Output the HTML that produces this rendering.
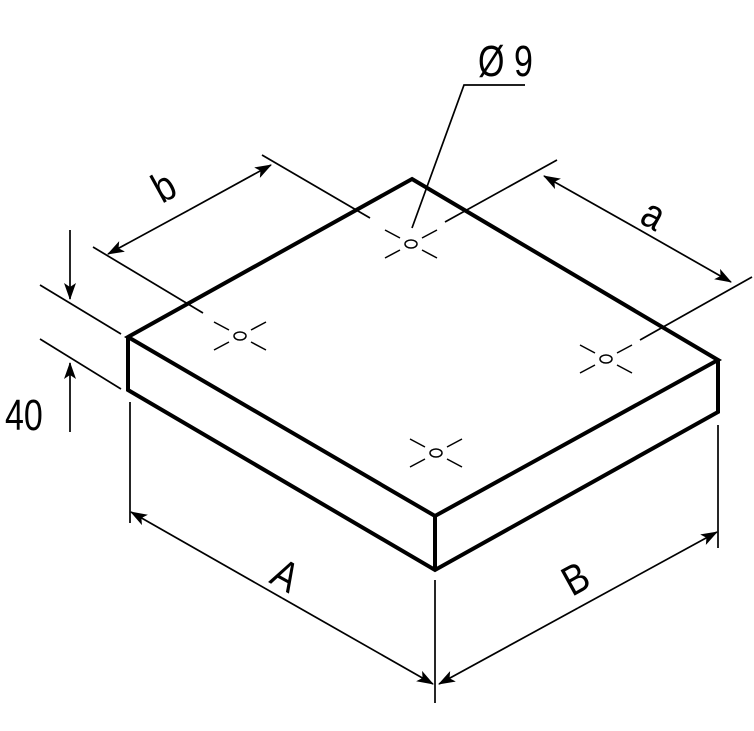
<!DOCTYPE html>
<html><head><meta charset="utf-8"><style>html,body{margin:0;padding:0;background:#fff}svg{display:block}</style></head><body>
<svg width="754" height="731" viewBox="0 0 754 731" xmlns="http://www.w3.org/2000/svg">
<defs>
<marker id="ar" markerWidth="17" markerHeight="12" refX="16" refY="6" orient="auto" markerUnits="userSpaceOnUse">
<path d="M0,0 L17,6 L0,12 L4,6 z" fill="#000"/></marker>
</defs>
<g fill="none" stroke="#000">
<g stroke-width="4" stroke-linejoin="miter">
<polygon points="412,179 718,360 435,516 128,337"/>
<polyline points="128,337 128,390 435,570 718,412 718,360"/>
<line x1="435" y1="516" x2="435" y2="570"/>
</g>
<g stroke-width="1.7">
<line x1="40" y1="285" x2="121" y2="334"/>
<line x1="40" y1="339" x2="121" y2="389"/>
<line x1="70" y1="230" x2="70" y2="299" marker-end="url(#ar)"/>
<line x1="70" y1="432" x2="70" y2="363" marker-end="url(#ar)"/>
<line x1="93" y1="247" x2="203" y2="313"/>
<line x1="262" y1="155" x2="370" y2="218"/>
<line x1="189" y1="210" x2="108" y2="254" marker-end="url(#ar)"/>
<line x1="189" y1="210" x2="271" y2="165" marker-end="url(#ar)"/>
<line x1="557" y1="160" x2="445" y2="222"/>
<line x1="752" y1="277" x2="640" y2="340"/>
<line x1="638" y1="229" x2="544" y2="176" marker-end="url(#ar)"/>
<line x1="638" y1="229" x2="731" y2="282" marker-end="url(#ar)"/>
<line x1="130" y1="402" x2="130" y2="523"/>
<line x1="435" y1="580" x2="435" y2="703"/>
<line x1="718" y1="425" x2="718" y2="548"/>
<line x1="282" y1="598" x2="131" y2="512" marker-end="url(#ar)"/>
<line x1="282" y1="598" x2="433" y2="684" marker-end="url(#ar)"/>
<line x1="578" y1="608" x2="439" y2="684" marker-end="url(#ar)"/>
<line x1="578" y1="608" x2="717" y2="532" marker-end="url(#ar)"/>
<polyline points="412,228 464,85 525,85"/>
</g>
<g stroke-width="1.5">
<g transform="translate(411,244)">
<ellipse rx="6" ry="4"/><path d="M-26,-14 L-11,-6 M11,6 L26,14 M-26,14 L-11,6 M11,-6 L26,-14"/></g>
<g transform="translate(240,336)">
<ellipse rx="6" ry="4"/><path d="M-26,-14 L-11,-6 M11,6 L26,14 M-26,14 L-11,6 M11,-6 L26,-14"/></g>
<g transform="translate(606,359)">
<ellipse rx="6" ry="4"/><path d="M-26,-14 L-11,-6 M11,6 L26,14 M-26,14 L-11,6 M11,-6 L26,-14"/></g>
<g transform="translate(436,453)">
<ellipse rx="6" ry="4"/><path d="M-26,-14 L-11,-6 M11,6 L26,14 M-26,14 L-11,6 M11,-6 L26,-14"/></g>
</g>
</g>
<g font-family="Liberation Sans, sans-serif" font-size="40" fill="#000">
<text transform="translate(5,430) scale(0.85,1.08)">40</text>
<text transform="translate(478,76) scale(0.85,1.08)">Ø</text>
<text transform="translate(514,76) scale(0.85,1.08)">9</text>
<text transform="translate(162,204) rotate(-29) scale(0.9,1.05)">b</text>
<text transform="translate(638,222) rotate(29) scale(0.9,1.05)">a</text>
<text transform="translate(268,582) rotate(29) scale(0.9,1.05)">A</text>
<text transform="translate(572,597) rotate(-29) scale(0.9,1.05)">B</text>
</g>
</svg>
</body></html>
